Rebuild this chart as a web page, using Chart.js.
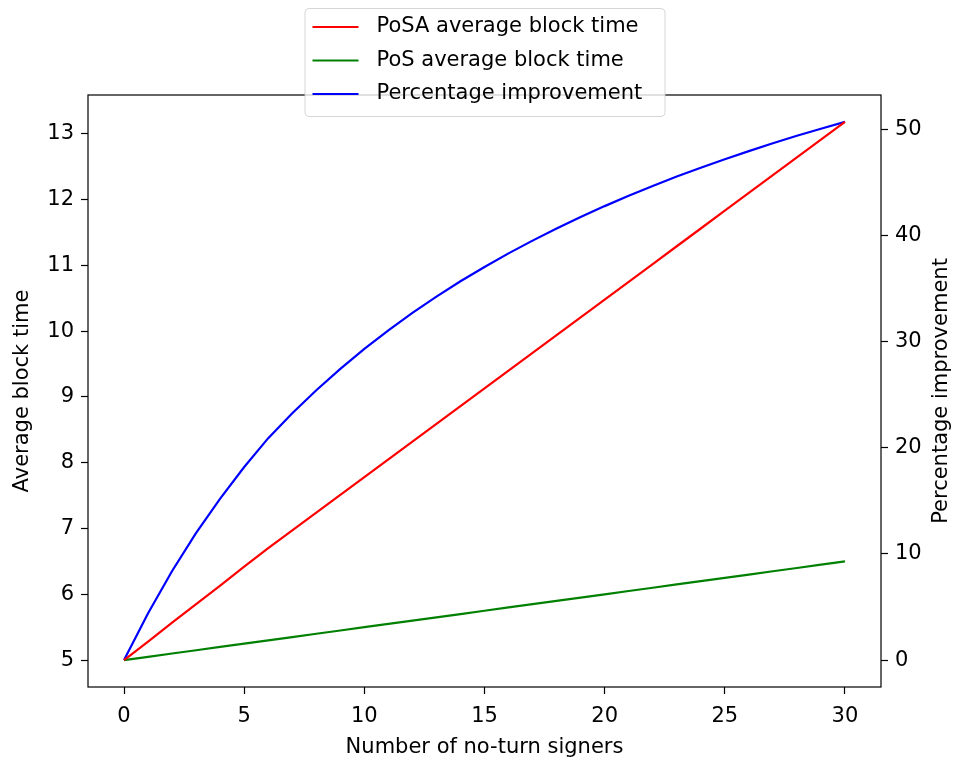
<!DOCTYPE html>
<html>
<head>
<meta charset="utf-8">
<script src="https://cdn.jsdelivr.net/npm/chart.js@4"></script>
<style>
  html, body { margin: 0; padding: 0; background: #fff; }
  #wrap { width: 956px; height: 757px; }
</style>
</head>
<body>
<div id="wrap"><canvas id="blockChart"></canvas></div>
<script>
// Data
const noTurnSigners = [0, 1, 2, 3, 4, 5, 6, 7, 8, 9, 10, 11, 12, 13, 14, 15, 16, 17, 18, 19, 20, 21, 22, 23, 24, 25, 26, 27, 28, 29, 30];
const posaBlockTime = [5.00, 5.28, 5.57, 5.85, 6.13, 6.42, 6.70, 6.97, 7.24, 7.51, 7.78, 8.05, 8.32, 8.59, 8.86, 9.13, 9.40, 9.67, 9.94, 10.21, 10.48, 10.75, 11.02, 11.29, 11.56, 11.83, 12.10, 12.37, 12.64, 12.91, 13.18];
const posBlockTime = [5.00, 5.05, 5.10, 5.15, 5.20, 5.25, 5.30, 5.35, 5.40, 5.45, 5.50, 5.55, 5.60, 5.65, 5.70, 5.75, 5.80, 5.85, 5.90, 5.95, 6.00, 6.05, 6.10, 6.15, 6.20, 6.25, 6.30, 6.35, 6.40, 6.45, 6.50];
const improvement = [0, 4.41, 8.39, 11.97, 15.21, 18.18, 20.90, 23.24, 25.41, 27.43, 29.31, 31.06, 32.69, 34.23, 35.67, 37.02, 38.30, 39.50, 40.64, 41.72, 42.75, 43.72, 44.65, 45.53, 46.37, 47.17, 47.93, 48.67, 49.37, 50.04, 50.68];

const xTicks = [0, 5, 10, 15, 20, 25, 30];
const leftTicks = [5, 6, 7, 8, 9, 10, 11, 12, 13];
const rightTicks = [0, 10, 20, 30, 40, 50];

const rightTitle = "Percentage improvement";

const FONT = { family: "'DejaVu Sans', sans-serif", size: 21 };

function points(ys) {
  return noTurnSigners.map((x, i) => ({ x: x, y: ys[i] }));
}

function fixedTicks(values) {
  return function (scale) {
    scale.ticks = values.map(v => ({ value: v }));
  };
}

// frame around plot area, right axis title (reads bottom-to-top), legend
const framePlugin = {
  id: "frame",
  afterDraw(chart) {
    const { ctx, chartArea: a } = chart;
    ctx.save();
    ctx.strokeStyle = "#000";
    ctx.lineWidth = 1.2;
    ctx.strokeRect(a.left, a.top, a.right - a.left, a.bottom - a.top);

    ctx.font = FONT.size + "px " + FONT.family;
    ctx.fillStyle = "#000";

    // twin axis label
    ctx.save();
    ctx.translate(942, (a.top + a.bottom) / 2);
    ctx.rotate(-Math.PI / 2);
    ctx.textAlign = "center";
    ctx.textBaseline = "middle";
    ctx.fillText(rightTitle, 0, 0);
    ctx.restore();

    // legend box
    const boxW = 360, boxH = 108;
    const boxX = (a.left + a.right) / 2 - boxW / 2;
    const boxY = 8;
    ctx.fillStyle = "rgba(255,255,255,0.8)";
    ctx.strokeStyle = "rgba(204,204,204,0.8)";
    ctx.lineWidth = 1;
    ctx.beginPath();
    ctx.roundRect(boxX + 0.5, boxY + 0.5, boxW, boxH, 4);
    ctx.fill();
    ctx.stroke();

    ctx.textBaseline = "middle";
    ctx.textAlign = "left";
    chart.data.datasets.forEach((ds, i) => {
      const y = boxY + 19 + i * 33.5;
      ctx.strokeStyle = ds.borderColor;
      ctx.lineWidth = 2.2;
      ctx.beginPath();
      ctx.moveTo(boxX + 8, y);
      ctx.lineTo(boxX + 54, y);
      ctx.stroke();
      ctx.fillStyle = "#000";
      ctx.fillText(ds.label, boxX + 72, y);
    });
    ctx.restore();
  }
};

new Chart(document.getElementById("blockChart"), {
  type: "line",
  data: {
    datasets: [
      { label: "PoSA average block time", data: points(posaBlockTime), borderColor: "#ff0000", yAxisID: "y" },
      { label: "PoS average block time", data: points(posBlockTime), borderColor: "#008000", yAxisID: "y" },
      { label: "Percentage improvement", data: points(improvement), borderColor: "#0000ff", yAxisID: "y1" }
    ]
  },
  options: {
    responsive: true,
    maintainAspectRatio: false,
    animation: false,
    layout: { padding: { top: 95, left: 0, right: 0, bottom: 0 } },
    elements: {
      point: { radius: 0 },
      line: { borderWidth: 2.2, tension: 0 }
    },
    plugins: {
      legend: { display: false },
      tooltip: { enabled: false }
    },
    scales: {
      x: {
        type: "linear",
        min: -1.5,
        max: 31.5,
        afterBuildTicks: fixedTicks(xTicks),
        afterFit(scale) { scale.height = 70; },
        border: { display: false },
        grid: { drawOnChartArea: false, tickLength: 7, tickColor: "#000", tickWidth: 1.2 },
        ticks: { color: "#000", font: FONT, padding: 10, maxRotation: 0 },
        title: { display: true, text: "Number of no-turn signers", color: "#000", font: FONT, padding: { top: 0, bottom: -3 } }
      },
      y: {
        type: "linear",
        position: "left",
        min: 4.591,
        max: 13.589,
        afterBuildTicks: fixedTicks(leftTicks),
        afterFit(scale) { scale.width = 88; },
        border: { display: false },
        grid: { drawOnChartArea: false, tickLength: 7, tickColor: "#000", tickWidth: 1.2 },
        ticks: { color: "#000", font: FONT, padding: 7 },
        title: { display: true, text: "Average block time", color: "#000", font: FONT, padding: { top: 10, bottom: 0 } }
      },
      y1: {
        type: "linear",
        position: "right",
        min: -2.534,
        max: 53.214,
        afterBuildTicks: fixedTicks(rightTicks),
        afterFit(scale) { scale.width = 75; },
        border: { display: false },
        grid: { drawOnChartArea: false, tickLength: 7, tickColor: "#000", tickWidth: 1.2 },
        ticks: { color: "#000", font: FONT, padding: 7 },
        title: { display: false }
      }
    }
  },
  plugins: [framePlugin]
});
</script>
</body>
</html>
